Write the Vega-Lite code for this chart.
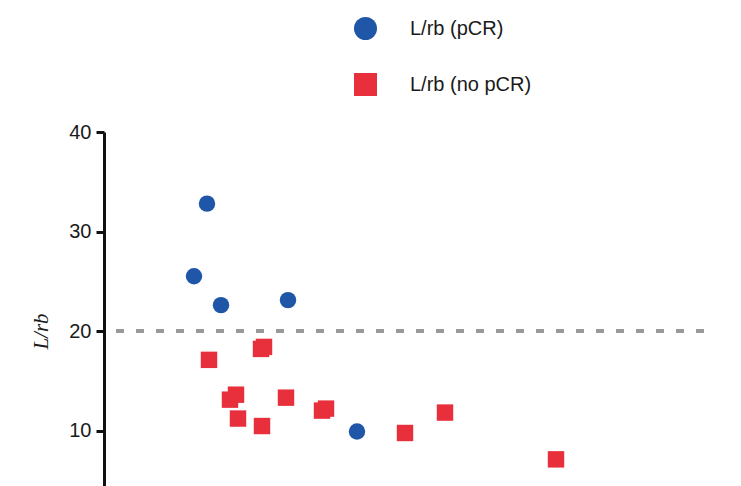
{
  "$schema": "https://vega.github.io/schema/vega-lite/v6.json",
  "autosize": "none",
  "padding": {"left": 104, "top": 132, "right": 37, "bottom": 0},
  "width": 600,
  "height": 398,
  "background": "white",
  "config": {"view": {"stroke": null}},
  "data": {"values": [
    {"x": 10.3, "y": 32.8, "group": "L/rb (pCR)"},
    {"x": 9.0, "y": 25.5, "group": "L/rb (pCR)"},
    {"x": 11.7, "y": 22.6, "group": "L/rb (pCR)"},
    {"x": 18.4, "y": 23.1, "group": "L/rb (pCR)"},
    {"x": 25.3, "y": 9.9, "group": "L/rb (pCR)"},
    {"x": 10.5, "y": 17.1, "group": "L/rb (no pCR)"},
    {"x": 12.6, "y": 13.1, "group": "L/rb (no pCR)"},
    {"x": 13.2, "y": 13.6, "group": "L/rb (no pCR)"},
    {"x": 13.4, "y": 11.2, "group": "L/rb (no pCR)"},
    {"x": 15.8, "y": 10.45, "group": "L/rb (no pCR)"},
    {"x": 15.7, "y": 18.2, "group": "L/rb (no pCR)"},
    {"x": 16.0, "y": 18.4, "group": "L/rb (no pCR)"},
    {"x": 18.2, "y": 13.3, "group": "L/rb (no pCR)"},
    {"x": 21.8, "y": 12.0, "group": "L/rb (no pCR)"},
    {"x": 22.2, "y": 12.2, "group": "L/rb (no pCR)"},
    {"x": 30.1, "y": 9.75, "group": "L/rb (no pCR)"},
    {"x": 34.1, "y": 11.8, "group": "L/rb (no pCR)"},
    {"x": 45.2, "y": 7.1, "group": "L/rb (no pCR)"}
  ]},
  "layer": [
    {
      "mark": {"type": "rule", "color": "#9a9a9a", "strokeWidth": 3, "strokeDash": [8, 12]},
      "encoding": {"y": {"datum": 20, "type": "quantitative", "scale": {"domain": [0, 40], "nice": false}}}
    },
    {
      "mark": {"type": "point", "filled": true, "opacity": 1, "size": 270},
      "encoding": {
        "x": {"field": "x", "type": "quantitative", "scale": {"domain": [0, 60], "nice": false}, "axis": null},
        "y": {
          "field": "y", "type": "quantitative",
          "scale": {"domain": [0, 40], "nice": false},
          "axis": {
            "title": "L/rb",
            "values": [10, 20, 30, 40],
            "grid": false,
            "domainColor": "#111111", "domainWidth": 3,
            "tickColor": "#111111", "tickWidth": 3, "tickSize": 8,
            "labelFont": "Liberation Sans", "labelFontSize": 20, "labelColor": "#1a1a1a", "labelPadding": 5,
            "titleFont": "Liberation Serif", "titleFontStyle": "italic", "titleFontWeight": "normal",
            "titleFontSize": 21, "titleColor": "#1a1a1a", "titlePadding": 17
          }
        },
        "color": {
          "field": "group", "type": "nominal",
          "scale": {"domain": ["L/rb (pCR)", "L/rb (no pCR)"], "range": ["#1f56a8", "#e8303d"]},
          "legend": {
            "title": null, "orient": "none", "legendX": 249, "legendY": -116,
            "symbolSize": 530, "symbolOpacity": 1, "rowPadding": 25,
            "labelFont": "Liberation Sans", "labelFontSize": 20, "labelColor": "#1a1a1a", "labelOffset": 32
          }
        },
        "shape": {
          "field": "group", "type": "nominal",
          "scale": {"domain": ["L/rb (pCR)", "L/rb (no pCR)"], "range": ["circle", "square"]}
        }
      }
    }
  ]
}
